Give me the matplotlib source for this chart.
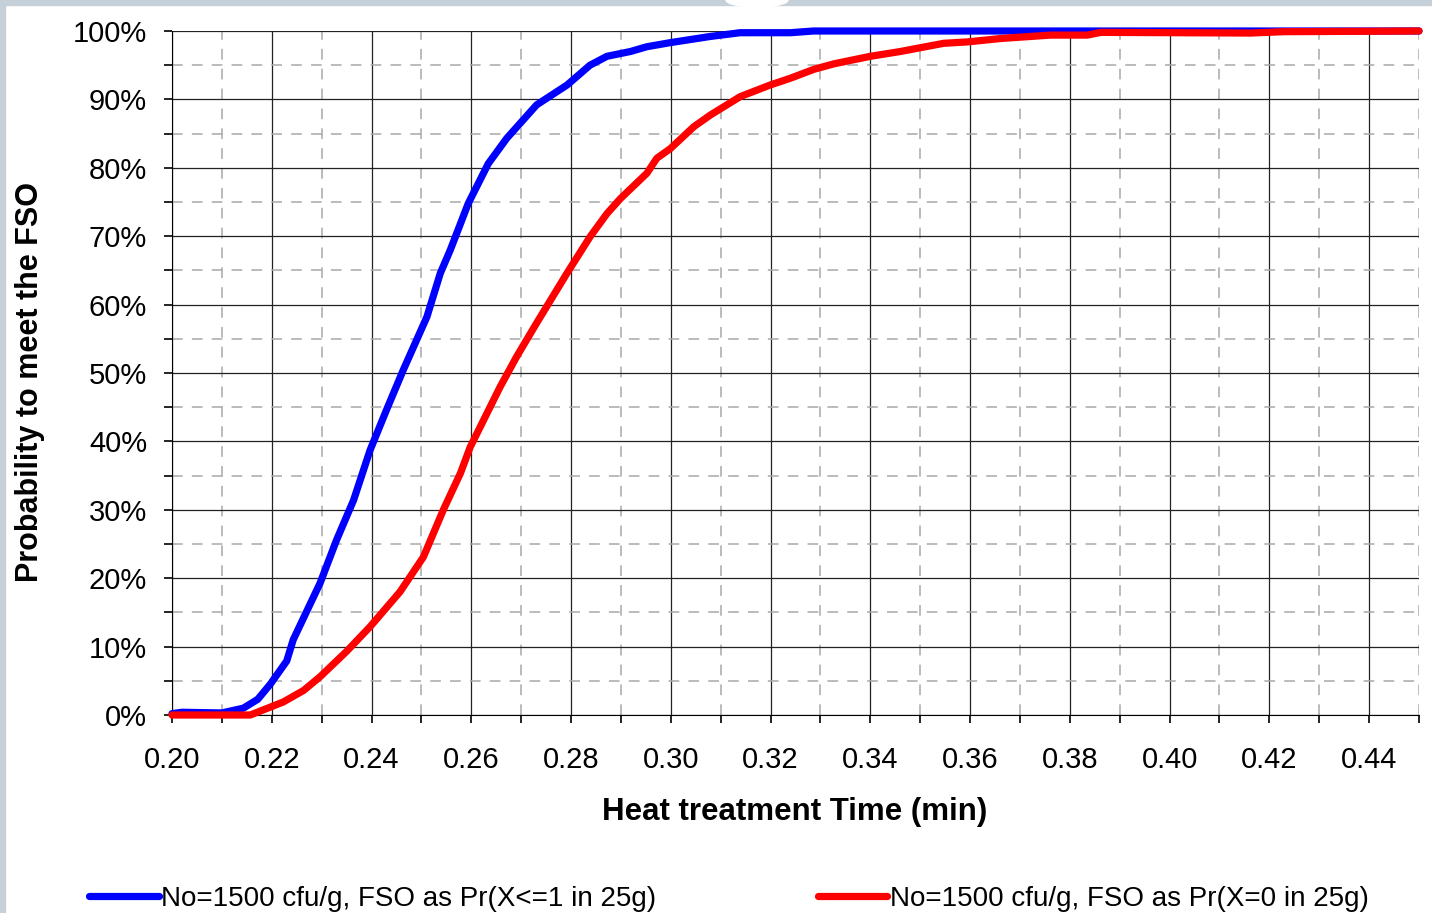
import matplotlib
matplotlib.use('Agg')
import matplotlib.pyplot as plt
from matplotlib.patches import Rectangle, Ellipse
from matplotlib.ticker import MultipleLocator, PercentFormatter, FormatStrFormatter

plt.rcParams['font.family'] = ['Liberation Sans', 'DejaVu Sans']

# heat treatment time (min) and probability (%)
blue_t = [0.200, 0.202, 0.210, 0.2143, 0.2172, 0.2197, 0.2230, 0.2243, 0.2297,
          0.2330, 0.2364, 0.2397, 0.2430, 0.2464, 0.2511, 0.2538, 0.2558,
          0.2594, 0.2634, 0.2671, 0.2731, 0.2792, 0.2838, 0.2872, 0.2919,
          0.2952, 0.2999, 0.3079, 0.3139, 0.3240, 0.3286, 0.450]
blue_p = [0.2, 0.4, 0.3, 1.0, 2.3, 4.5, 7.9, 11.0, 19.3,
          25.6, 31.4, 38.7, 44.6, 50.5, 58.2, 64.6, 68.0,
          74.8, 80.6, 84.3, 89.2, 92.1, 95.0, 96.3, 97.0,
          97.7, 98.3, 99.2, 99.75, 99.75, 100.0, 100.0]

red_t = [0.200, 0.2157, 0.2223, 0.2264, 0.2297, 0.2350, 0.2397, 0.2457,
         0.2504, 0.2544, 0.2578, 0.2598, 0.2658, 0.2691, 0.2731, 0.2792,
         0.2838, 0.2872, 0.2899, 0.2952, 0.2972, 0.2999, 0.3046, 0.3079,
         0.3139, 0.3199, 0.3240, 0.3287, 0.3327, 0.3400, 0.3460, 0.3547,
         0.3594, 0.3661, 0.3761, 0.3835, 0.3862, 0.4162, 0.4229, 0.450]
red_p = [0.0, 0.0, 1.9, 3.6, 5.6, 9.3, 12.9, 18.0,
         23.1, 30.0, 35.3, 39.2, 48.0, 52.4, 57.3, 64.6,
         69.9, 73.3, 75.5, 79.2, 81.4, 82.8, 86.0, 87.7,
         90.4, 92.1, 93.1, 94.4, 95.2, 96.3, 97.0, 98.2,
         98.4, 98.9, 99.4, 99.4, 99.8, 99.7, 99.9, 100.0]

labels = ['No=1500 cfu/g, FSO as Pr(X<=1 in 25g)',
          'No=1500 cfu/g, FSO as Pr(X=0 in 25g)']

fig = plt.figure(figsize=(14.32, 9.13), dpi=100)
ax = fig.add_axes([172/1432, 1-715/913, (1419-172)/1432, (715-31)/913])

# slide-like border on top/left
fig.patches.append(Rectangle((0, 1-5/913), 1, 5/913, transform=fig.transFigure,
                             color='#c5d0d8', zorder=0))
fig.patches.append(Rectangle((0, 0), 5/1432, 1, transform=fig.transFigure,
                             color='#c5d0d8', zorder=0))
fig.patches.append(Ellipse((757/1432, 1), 62/1432, 14/913, transform=fig.transFigure,
                           color='white', zorder=1))

l1, = ax.plot(blue_t, blue_p, color='#0000ff', lw=5.2, clip_on=False,
              solid_capstyle='round', zorder=3)
l2, = ax.plot(red_t, red_p, color='#ff0000', lw=5.2, clip_on=False,
              solid_capstyle='round', zorder=4)

ax.set_xlim(0.20, 0.45)
ax.set_ylim(0, 100)
ax.xaxis.set_major_locator(MultipleLocator(0.02))
ax.xaxis.set_minor_locator(MultipleLocator(0.01))
ax.yaxis.set_major_locator(MultipleLocator(10))
ax.yaxis.set_minor_locator(MultipleLocator(5))
ax.yaxis.set_major_formatter(PercentFormatter(decimals=0))
ax.xaxis.set_major_formatter(FormatStrFormatter('%.2f'))

ax.grid(which='major', color='#222222', lw=0.9, ls='-')
ax.grid(which='minor', color='#a8a8a8', lw=1.1, ls=(0, (7, 6)))
ax.set_axisbelow(True)

ax.spines['top'].set_visible(False)
ax.spines['right'].set_visible(False)
ax.tick_params(which='both', direction='out', length=6, width=1.2, color='black')
ax.tick_params(axis='both', which='major', labelsize=21)
ax.tick_params(axis='x', which='major', pad=16)
ax.tick_params(axis='y', which='major', pad=12)

fig.text(795/1432, 1-812/913, 'Heat treatment Time (min)', ha='center', va='center',
         fontsize=22.5, fontweight='bold')
fig.text(30/1432, 1-382/913, 'Probability to meet the FSO', ha='center', va='center',
         rotation=90, fontsize=22, fontweight='bold')

fig.legend([l1, l2], labels, loc='center', ncol=2,
           bbox_to_anchor=(729/1432, 1-899/913), frameon=False, fontsize=20,
           handlelength=2.5, handletextpad=0.1, columnspacing=5.8,
           borderaxespad=0)

fig.savefig('out.png', dpi=100)
